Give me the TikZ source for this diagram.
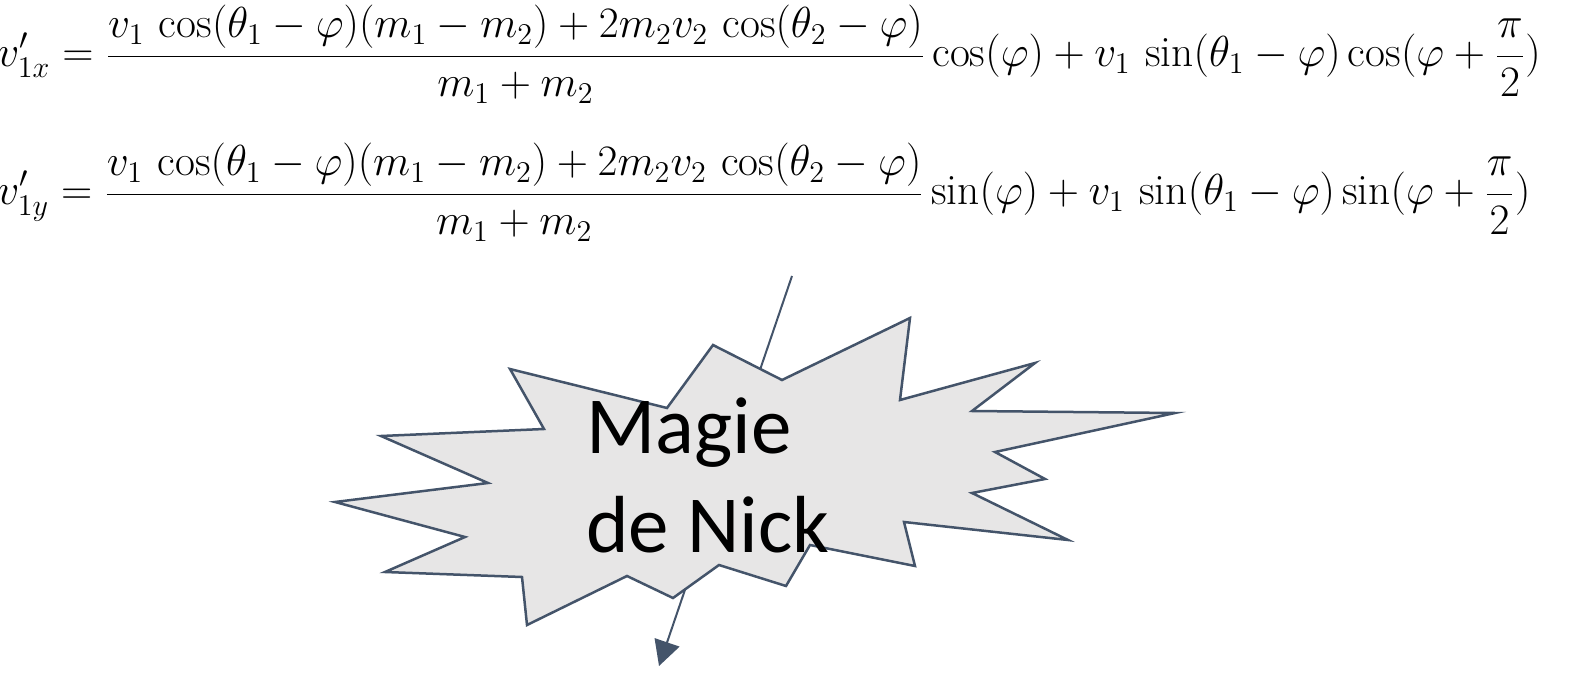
\documentclass[tikz,border=0pt]{standalone}
\usepackage{graphicx}
\usepackage{fontspec}
\newfontfamily\calib{Carlito}
\usetikzlibrary{arrows.meta}
\definecolor{starline}{HTML}{44546A}
\definecolor{starfill}{HTML}{E7E6E6}
\begin{document}
\begin{tikzpicture}[x=0.5pt,y=-0.5pt,
  eqstyle/.style={inner sep=0pt,anchor=base west,font=\fontsize{20.74}{25}\selectfont},
  magie/.style={inner sep=0pt,anchor=base west,font=\calib\fontsize{40.5}{48}\selectfont},
  starshape/.style={draw=starline,fill=starfill,line width=1.25pt,line join=miter},
  arrowline/.style={draw=starline,line width=1pt,-{Triangle[length=12.5pt,width=13pt]}}]
\useasboundingbox (0,0) rectangle (1584,695);
% equations
\node[eqstyle] (eqx) at (-3,67) {\scalebox{1.045}{$\displaystyle v'_{1x}=\frac{v_1\,\cos(\theta_1-\varphi)(m_1-m_2)+2m_2v_2\,\cos(\theta_2-\varphi)}{m_1+m_2}\cos(\varphi)+v_1\,\sin(\theta_1-\varphi)\cos(\varphi+\frac{\pi}{2})$}};
\node[eqstyle] (eqy) at (-3,205) {\scalebox{1.045}{$\displaystyle v'_{1y}=\frac{v_1\,\cos(\theta_1-\varphi)(m_1-m_2)+2m_2v_2\,\cos(\theta_2-\varphi)}{m_1+m_2}\sin(\varphi)+v_1\,\sin(\theta_1-\varphi)\sin(\varphi+\frac{\pi}{2})$}};
% arrow behind the star
\coordinate (lt) at (792,276);
\coordinate (lb) at (659,666);
\draw[arrowline] (lt) -- (lb);
% star
\draw[starshape] (335,502) -- (488,483) -- (381,436) -- (544,429) -- (510,369)
  -- (667,408) -- (713,345) -- (782,380) -- (910,318) -- (900,400)
  -- (1035,363) -- (972,411) -- (1175,413) -- (995,452) -- (1045,479)
  -- (972,493) -- (1068,540) -- (904,522) -- (915,566) -- (810,545)
  -- (786,586) -- (719,565) -- (673,598) -- (627,576) -- (527,625)
  -- (522,577) -- (385,572) -- (465,537) -- cycle;
% text
\node[magie] (m1) at (586,453) {Magie};
\node[magie] (m2) at (586,552) {de Nick};
\end{tikzpicture}
\end{document}
